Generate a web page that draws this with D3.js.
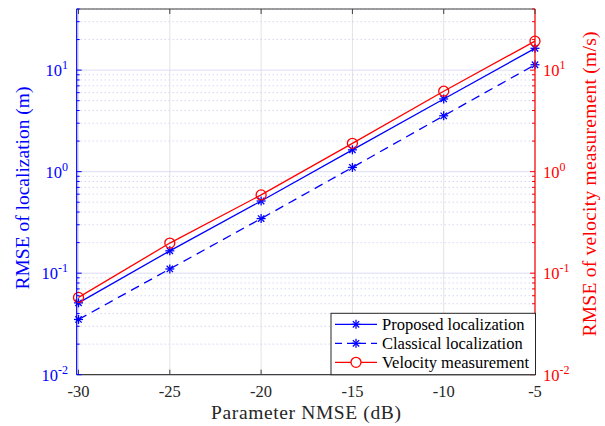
<!DOCTYPE html>
<html>
<head>
<meta charset="utf-8">
<script src="https://cdn.jsdelivr.net/npm/d3@7"></script>
<style>
  html, body { margin: 0; padding: 0; background: #fff; }
  svg { display: block; font-family: "Liberation Serif", "DejaVu Serif", serif; }
</style>
</head>
<body>
<svg id="chart" width="605" height="426"></svg>
<script>
// NMSE of the parameter estimate (dB)
const nmseDb = [-30, -25, -20, -15, -10, -5];
// RMSE of localization (m)
const proposedLoc = [0.051, 0.166, 0.514, 1.64, 5.2, 16.4];
const classicalLoc = [0.035, 0.11, 0.345, 1.1, 3.55, 11.3];
// RMSE of velocity measurement (m/s)
const velocityMeas = [0.0577, 0.198, 0.59, 1.9, 6.2, 19.3];

const xTicks = [-30, -25, -20, -15, -10, -5];
const yDecades = [-2, -1, 0, 1];
const seriesNames = ["Proposed localization", "Classical localization", "Velocity measurement"];

const svg = d3.select("#chart");
const plotL = 76.7, plotR = 535, plotT = 9, plotB = 374.7;

const x = d3.scaleLinear().domain([-30.1, -5]).range([plotL, plotR]);
const yL = d3.scaleLog().domain([0.01, 40]).range([plotB, plotT]);
const yR = d3.scaleLog().domain([0.01, 40]).range([plotB, plotT]);

const blue = "#0000ff", red = "#ff0000", axisGray = "#404040";

// minor values (2..9 x 10^k) inside the domain
const minorVals = [];
for (let k = -2; k <= 1; k++) for (let m = 2; m <= 9; m++) {
  const v = m * Math.pow(10, k);
  if (v <= 40) minorVals.push(v);
}

// grid
const grid = svg.append("g");
grid.selectAll("line.vx").data(xTicks).join("line")
  .attr("x1", d => x(d)).attr("x2", d => x(d))
  .attr("y1", plotT).attr("y2", plotB)
  .attr("stroke", "#e3e3e3").attr("stroke-width", 1);
grid.selectAll("line.hm").data(minorVals).join("line")
  .attr("x1", plotL).attr("x2", plotR)
  .attr("y1", d => yL(d)).attr("y2", d => yL(d))
  .attr("stroke", "#c4c4f2").attr("stroke-width", 1)
  .attr("stroke-dasharray", "1,3");
grid.selectAll("line.hM").data(yDecades).join("line")
  .attr("x1", plotL).attr("x2", plotR)
  .attr("y1", d => yL(Math.pow(10, d))).attr("y2", d => yL(Math.pow(10, d)))
  .attr("stroke", "#dcdcf6").attr("stroke-width", 1);

// data lines
const line = (ys, sc) => d3.line().x((d, i) => x(nmseDb[i])).y(d => sc(d))(ys);
const plot = svg.append("g");
plot.append("path").attr("d", line(proposedLoc, yL))
  .attr("fill", "none").attr("stroke", blue).attr("stroke-width", 1.3);
plot.append("path").attr("d", line(classicalLoc, yL))
  .attr("fill", "none").attr("stroke", blue).attr("stroke-width", 1.3)
  .attr("stroke-dasharray", "9,6");
plot.append("path").attr("d", line(velocityMeas, yR))
  .attr("fill", "none").attr("stroke", red).attr("stroke-width", 1.3);

function asterisk(g, cx, cy, r, color) {
  const a = r * Math.SQRT1_2;
  const segs = [[-r, 0, r, 0], [0, -r, 0, r], [-a, -a, a, a], [-a, a, a, -a]];
  segs.forEach(s => g.append("line")
    .attr("x1", cx + s[0]).attr("y1", cy + s[1])
    .attr("x2", cx + s[2]).attr("y2", cy + s[3])
    .attr("stroke", color).attr("stroke-width", 1.3));
}
proposedLoc.forEach((v, i) => asterisk(plot, x(nmseDb[i]), yL(v), 4.5, blue));
classicalLoc.forEach((v, i) => asterisk(plot, x(nmseDb[i]), yL(v), 4.5, blue));
plot.selectAll("circle").data(velocityMeas).join("circle")
  .attr("cx", (d, i) => x(nmseDb[i])).attr("cy", d => yR(d)).attr("r", 5)
  .attr("fill", "none").attr("stroke", red).attr("stroke-width", 1.3);

// axes frame
const ax = svg.append("g");
ax.append("line").attr("x1", plotL).attr("x2", plotR).attr("y1", plotT).attr("y2", plotT)
  .attr("stroke", axisGray).attr("stroke-width", 1.2);
ax.append("line").attr("x1", plotL).attr("x2", plotR).attr("y1", plotB).attr("y2", plotB)
  .attr("stroke", axisGray).attr("stroke-width", 1.2);
ax.append("line").attr("x1", plotL).attr("x2", plotL).attr("y1", plotT).attr("y2", plotB)
  .attr("stroke", blue).attr("stroke-width", 1.2);
ax.append("line").attr("x1", plotR).attr("x2", plotR).attr("y1", plotT).attr("y2", plotB)
  .attr("stroke", red).attr("stroke-width", 1.2);

// x ticks (inward, top and bottom)
xTicks.forEach(t => {
  ax.append("line").attr("x1", x(t)).attr("x2", x(t)).attr("y1", plotB).attr("y2", plotB - 5)
    .attr("stroke", axisGray);
  ax.append("line").attr("x1", x(t)).attr("x2", x(t)).attr("y1", plotT).attr("y2", plotT + 5)
    .attr("stroke", axisGray);
});
ax.selectAll("text.xt").data(xTicks).join("text")
  .attr("x", d => x(d)).attr("y", 397)
  .attr("text-anchor", "middle").attr("font-size", 16.5).attr("fill", "#262626")
  .text(d => d);

// y ticks (inward) on both sides
function yTicksFor(sc, x0, dir, color) {
  yDecades.forEach(d => {
    const yy = sc(Math.pow(10, d));
    ax.append("line").attr("x1", x0).attr("x2", x0 + dir * 5).attr("y1", yy).attr("y2", yy)
      .attr("stroke", color);
  });
  minorVals.forEach(v => {
    const yy = sc(v);
    ax.append("line").attr("x1", x0).attr("x2", x0 + dir * 3).attr("y1", yy).attr("y2", yy)
      .attr("stroke", color);
  });
}
yTicksFor(yL, plotL, 1, blue);
yTicksFor(yR, plotR, -1, red);

function powLabel(g, xx, yy, exp, anchor, color) {
  const t = g.append("text").attr("x", xx).attr("y", yy + 6)
    .attr("text-anchor", anchor).attr("font-size", 16.5).attr("fill", color);
  t.append("tspan").text("10");
  t.append("tspan").attr("font-size", 12).attr("dy", -7).text(exp);
}
yDecades.forEach(d => powLabel(ax, 68, yL(Math.pow(10, d)), d, "end", blue));
yDecades.forEach(d => powLabel(ax, 543, yR(Math.pow(10, d)), d, "start", red));

// axis titles
svg.append("text").attr("x", 306).attr("y", 419)
  .attr("text-anchor", "middle").attr("font-size", 19.5).attr("fill", "#262626")
  .attr("textLength", 190).attr("lengthAdjust", "spacing")
  .text("Parameter NMSE (dB)");
svg.append("text").attr("transform", "translate(29,188) rotate(-90)")
  .attr("text-anchor", "middle").attr("font-size", 19.5).attr("fill", blue)
  .attr("textLength", 203).attr("lengthAdjust", "spacing")
  .text("RMSE of localization (m)");
svg.append("text").attr("transform", "translate(596,184) rotate(-90)")
  .attr("text-anchor", "middle").attr("font-size", 19.5).attr("fill", red)
  .attr("textLength", 305).attr("lengthAdjust", "spacing")
  .text("RMSE of velocity measurement (m/s)");

// legend
const lg = svg.append("g");
lg.append("rect").attr("x", 331).attr("y", 313.3).attr("width", 204.5).attr("height", 61.4)
  .attr("fill", "#fff").attr("stroke", "#262626").attr("stroke-width", 1);
const rows = [
  { name: seriesNames[0], color: blue, dash: null, mark: "star" },
  { name: seriesNames[1], color: blue, dash: "7,5", mark: "star" },
  { name: seriesNames[2], color: red, dash: null, mark: "circle" }
];
rows.forEach((r, i) => {
  const cy = 324.3 + i * 19;
  const l = lg.append("line").attr("x1", 335).attr("x2", 377).attr("y1", cy).attr("y2", cy)
    .attr("stroke", r.color).attr("stroke-width", 1.3);
  if (r.dash) l.attr("stroke-dasharray", r.dash);
  if (r.mark === "star") asterisk(lg, 356, cy, 4.5, r.color);
  else lg.append("circle").attr("cx", 356).attr("cy", cy).attr("r", 5)
    .attr("fill", "#fff").attr("stroke", r.color).attr("stroke-width", 1.3);
  lg.append("text").attr("x", 382).attr("y", cy + 5.5).attr("font-size", 16.5)
    .attr("fill", "#000").text(r.name);
});
</script>
</body>
</html>
